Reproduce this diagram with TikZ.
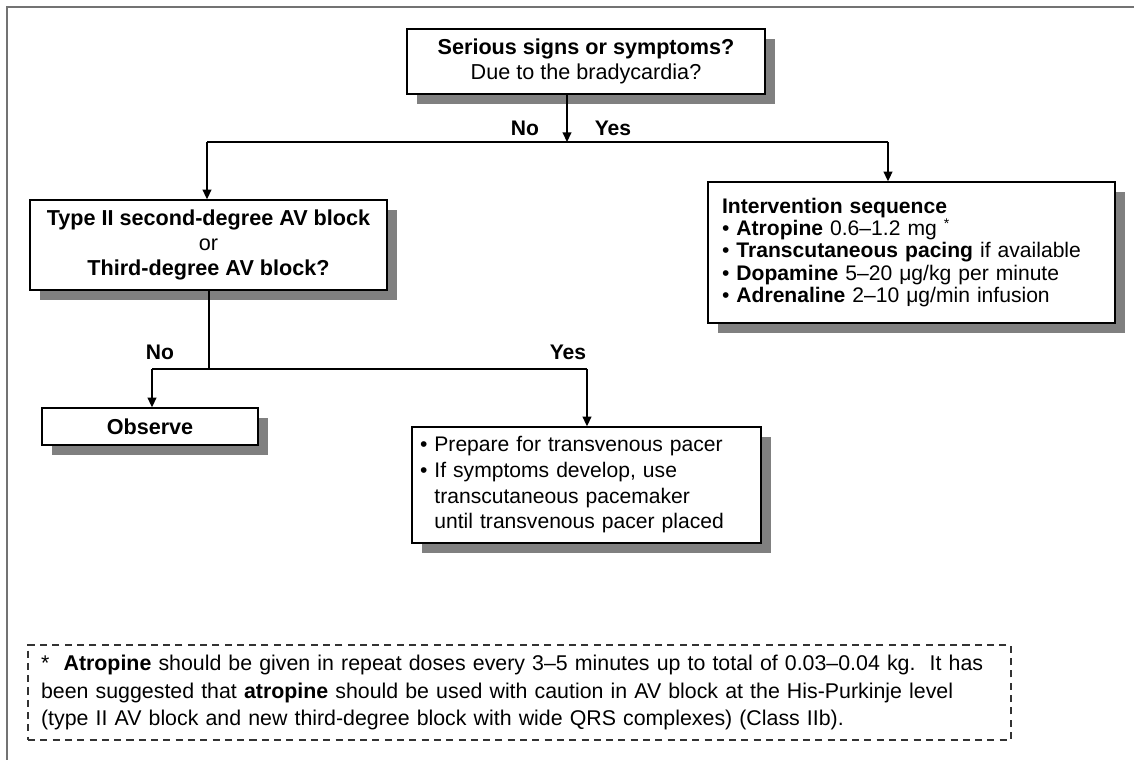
\documentclass[tikz,border=0pt]{standalone}
\usepackage{fontspec}
\setmainfont{Liberation Sans}
\usetikzlibrary{arrows.meta,shadows}

\tikzset{
  box/.style={draw=black, line width=0.8pt, fill=white, inner sep=0pt,
    drop shadow={shadow xshift=0.2cm, shadow yshift=-0.2cm, fill=black!50, opacity=1}},
  conn/.style={line width=0.8pt},
  arr/.style={conn, -{Triangle[length=5.5pt,width=5pt]}},
  lbl/.style={font=\fontsize{12}{14}\selectfont\bfseries, inner sep=0pt},
}

\begin{document}
\begin{tikzpicture}[x=0.02cm, y=-0.02cm]
		\useasboundingbox (0,0) rectangle (1134,760);
		
		%frame
		\draw[black!55, line width=1.2pt] (7,760) -- (7,7) -- (1134,7);
		
		%questions
		\node[box, minimum width=7.16cm, minimum height=1.3cm, align=center,
		  font=\fontsize{12.3}{14.2}\selectfont] (serious) at (586,61.5)
		  {\textbf{Serious signs or symptoms?}\\Due to the bradycardia?};
		\node[box, minimum width=7.14cm, minimum height=1.8cm, align=center,
		  font=\fontsize{12.3}{14.2}\selectfont] (typeii) at (208.5,245)
		  {\textbf{Type II second-degree AV block}\\or\\\textbf{Third-degree AV block?}};
		
		%actions
		\node[box, minimum height=2.82cm, text width=7.58cm, inner xsep=0.28cm, align=left,
		  font=\fontsize{12}{12.6}\selectfont] (interv) at (911.5,252.5)
		  {\textbf{Intervention sequence}\\
		   \textbullet\ \textbf{Atropine} 0.6–1.2 mg \textsuperscript{*}\\
		   \textbullet\ \textbf{Transcutaneous pacing} if available\\
		   \textbullet\ \textbf{Dopamine} 5–20 μg/kg per minute\\
		   \textbullet\ \textbf{Adrenaline} 2–10 μg/min infusion};
		\node[box, minimum width=4.32cm, minimum height=0.74cm,
		  font=\fontsize{12.3}{14.2}\selectfont\bfseries] (observe) at (150,426.5) {Observe};
		\node[box, minimum height=2.32cm, text width=6.66cm, inner xsep=0.16cm, align=left,
		  font=\fontsize{12}{14.6}\selectfont] (pacer) at (586.5,485)
		  {\textbullet\ Prepare for transvenous pacer\\
		   \textbullet\ If symptoms develop, use\\
		   \phantom{\textbullet\ }transcutaneous pacemaker\\
		   \phantom{\textbullet\ }until transvenous pacer placed};
		
		%footnote
		\node[draw=black!80, dash pattern=on 4pt off 3pt, line width=0.8pt,
		  minimum height=1.9cm, text width=19.14cm, inner xsep=0.26cm, align=left,
		  font=\fontsize{12.15}{15.6}\selectfont] (note) at (519.5,692.5)
		  {*\ \ \textbf{Atropine} should be given in repeat doses every 3–5 minutes up to total of 0.03–0.04 kg.\ \ It has\\
		   been suggested that \textbf{atropine} should be used with caution in AV block at the His-Purkinje level\\
		   (type II AV block and new third-degree block with wide QRS complexes) (Class IIb).};
		
		%first split
		\coordinate (splitA) at (567,142);
		\coordinate (noA) at (207,142);
		\coordinate (yesA) at (888,142);
		\draw[arr] (serious.south -| splitA) -- (splitA);
		\draw[conn] (noA) -- (yesA);
		\draw[arr] (noA) -- (noA |- typeii.north);
		\draw[arr] (yesA) -- (yesA |- interv.north);
		\node[lbl] (noLblA) at (525,128) {No};
		\node[lbl] (yesLblA) at (613,128) {Yes};
		
		%second split
		\coordinate (splitB) at (209,369);
		\coordinate (noB) at (152,369);
		\coordinate (yesB) at (587,369);
		\draw[conn] (typeii.south -| splitB) -- (splitB);
		\draw[conn] (noB) -- (yesB);
		\draw[arr] (noB) -- (noB |- observe.north);
		\draw[arr] (yesB) -- (yesB |- pacer.north);
		\node[lbl] (noLblB) at (160,352) {No};
		\node[lbl] (yesLblB) at (568,352) {Yes};
		
\end{tikzpicture}
\end{document}
